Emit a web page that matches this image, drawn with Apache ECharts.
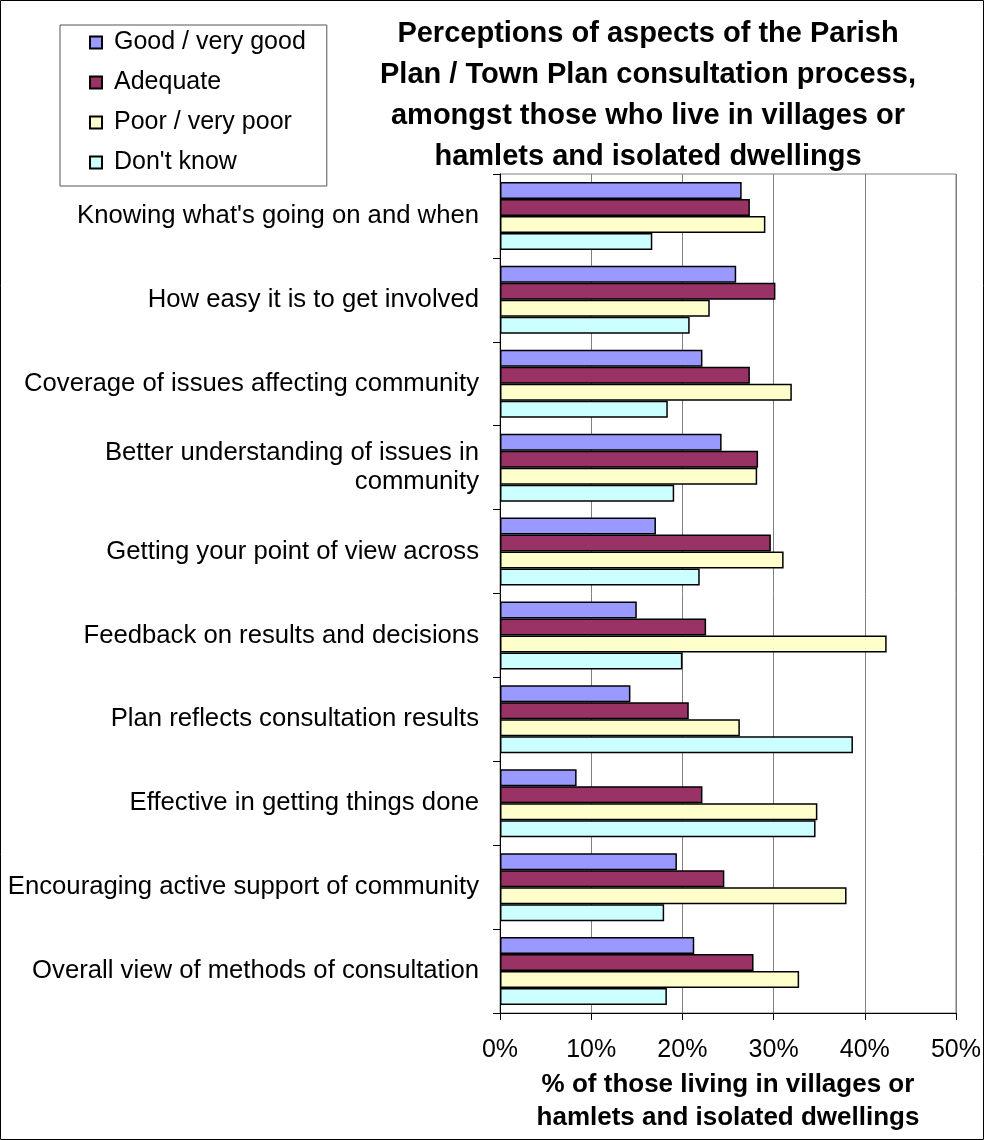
<!DOCTYPE html>
<html>
<head>
<meta charset="utf-8">
<script src="https://cdn.jsdelivr.net/npm/echarts@6/dist/echarts.min.js"></script>
<style>
  html, body { margin: 0; padding: 0; background: #fff; }
  #chart { width: 984px; height: 1140px; }
</style>
</head>
<body>
<div id="chart"></div>
<script>
const categories = [
  "Knowing what's going on and when",
  "How easy it is to get involved",
  "Coverage of issues affecting community",
  "Better understanding of issues in\ncommunity",
  "Getting your point of view across",
  "Feedback on results and decisions",
  "Plan reflects consultation results",
  "Effective in getting things done",
  "Encouraging active support of community",
  "Overall view of methods of consultation"
];
const seriesNames = ["Good / very good", "Adequate", "Poor / very poor", "Don't know"];
const goodVeryGood = [26.5, 25.9, 22.2, 24.3, 17.1, 15.0, 14.3, 8.4, 19.4, 21.3];
const adequate     = [27.4, 30.2, 27.4, 28.3, 29.7, 22.6, 20.7, 22.2, 24.6, 27.8];
const poorVeryPoor = [29.1, 23.0, 32.0, 28.2, 31.1, 42.4, 26.3, 34.8, 38.0, 32.8];
const dontKnow     = [16.7, 20.8, 18.4, 19.1, 21.9, 20.0, 38.7, 34.6, 18.0, 18.3];
const xTicks = [0, 10, 20, 30, 40, 50];
const titleText = "Perceptions of aspects of the Parish\nPlan / Town Plan consultation process,\namongst those who live in villages or\nhamlets and isolated dwellings";
const axisTitle = "% of those living in villages or\nhamlets and isolated dwellings";

const colors = ["#9999FF", "#993366", "#FFFFCC", "#CCFFFF"];
const values = [goodVeryGood, adequate, poorVeryPoor, dontKnow];
const FONT = "'Liberation Sans', Arial, sans-serif";

const chart = echarts.init(document.getElementById('chart'), null, { renderer: 'canvas' });
chart.setOption({
  animation: false,
  backgroundColor: '#fff',
  textStyle: { fontFamily: FONT },
  graphic: [
    { type: 'rect', shape: { x: 0.5, y: 0.5, width: 983, height: 1139 },
      style: { fill: null, stroke: '#000', lineWidth: 1 }, silent: true, z: 100 },
    { type: 'text', x: 648, y: 13,
      style: { text: titleText, textAlign: 'center', textVerticalAlign: 'top',
               fontFamily: FONT, fontSize: 29, fontWeight: 'bold', lineHeight: 41, fill: '#000' } }
  ],
  legend: {
    orient: 'vertical', left: 60, top: 25,
    padding: [5, 21, 11, 29],
    itemWidth: 12, itemHeight: 12, itemGap: 15,
    icon: 'rect',
    borderColor: '#555', borderWidth: 1,
    textStyle: { fontFamily: FONT, fontSize: 25, lineHeight: 25, color: '#000', padding: [0, 0, 0, 7] },
    data: seriesNames
  },
  grid: {
    left: 500, right: 24, top: 174, bottom: 127,
    show: true, borderColor: '#808080', borderWidth: 1, backgroundColor: 'transparent'
  },
  xAxis: {
    type: 'value', min: xTicks[0], max: xTicks[xTicks.length - 1], interval: 10,
    axisLine: { show: true, lineStyle: { color: '#000', width: 1 } },
    axisTick: { show: true, length: 7, lineStyle: { color: '#000' } },
    splitLine: { show: true, lineStyle: { color: '#808080', width: 1 } },
    axisLabel: { formatter: '{value}%', fontFamily: FONT, fontSize: 25, color: '#000', margin: 25 },
    name: axisTitle, nameLocation: 'middle', nameGap: 52,
    nameTextStyle: { fontFamily: FONT, fontSize: 26, fontWeight: 'bold', lineHeight: 33, color: '#000' }
  },
  yAxis: {
    type: 'category', data: categories, inverse: true,
    axisLine: { show: true, lineStyle: { color: '#000', width: 1 } },
    axisTick: { show: true, length: 7, lineStyle: { color: '#000' } },
    axisLabel: { fontFamily: FONT, fontSize: 25.7, lineHeight: 29, color: '#000', margin: 21, align: 'right' },
    splitLine: { show: false }
  },
  series: seriesNames.map((name, i) => ({
    name: name, type: 'bar', data: values[i],
    barGap: '0%', barCategoryGap: '19%',
    itemStyle: { color: colors[i], borderColor: '#000', borderWidth: 1.5 }
  }))
});
</script>
</body>
</html>
